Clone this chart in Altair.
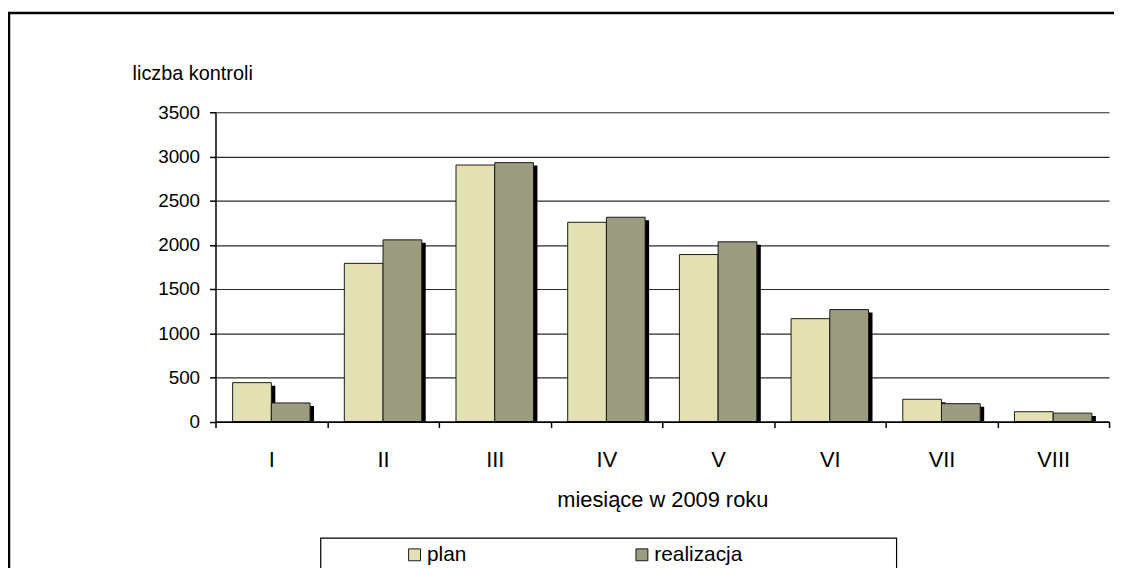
import altair as alt
import pandas as pd

# ---- data ----
months = ["I", "II", "III", "IV", "V", "VI", "VII", "VIII"]
plan = [440, 1790, 2903, 2255, 1890, 1164, 252, 111]
realizacja = [210, 2056, 2930, 2312, 2034, 1267, 202, 95]
series = ["plan", "realizacja"]
colors = ["#E3E1B3", "#9C9C80"]
y_ticks = [0, 500, 1000, 1500, 2000, 2500, 3000, 3500]

rows = []
for m, p, r in zip(months, plan, realizacja):
    rows.append({"miesiac": m, "seria": "plan", "wartosc": p})
    rows.append({"miesiac": m, "seria": "realizacja", "wartosc": r})
df = pd.DataFrame(rows)

FONT = "Liberation Sans"
W, H = 900, 311.5
BAR = 39
HALF = BAR / 2

x_enc = alt.X(
    "miesiac:N",
    sort=months,
    scale=alt.Scale(domain=months, paddingInner=0, paddingOuter=0),
    axis=alt.Axis(
        title="miesiące w 2009 roku",
        tickBand="extent",
        labelAngle=0,
        labelFontSize=22,
        labelPadding=22,
        titleFontSize=22,
        titleFontWeight="normal",
        titlePadding=20,
        grid=False,
        domainColor="#000000",
        domainWidth=1.8,
        tickColor="#000000",
        tickWidth=1.5,
        tickSize=6,
        labelColor="#000000",
        titleColor="#000000",
        zindex=1,
    ),
)
y_enc = alt.Y(
    "wartosc:Q",
    scale=alt.Scale(domain=[0, 3500], nice=False),
    axis=alt.Axis(
        values=y_ticks,
        format="d",
        title="liczba kontroli",
        titleAngle=0,
        titleAlign="left",
        titleBaseline="alphabetic",
        titleX=-84,
        titleY=-33,
        titleFontSize=20,
        titleFontWeight="normal",
        titleColor="#000000",
        labelFontSize=19,
        labelPadding=10,
        labelColor="#000000",
        grid=True,
        gridColor="#2a2a2a",
        gridWidth=1.2,
        domainColor="#000000",
        domainWidth=1.5,
        tickColor="#000000",
        tickWidth=1.5,
        tickSize=6,
    ),
)

color_enc = alt.Color(
    "seria:N",
    scale=alt.Scale(domain=series, range=colors),
    legend=alt.Legend(
        title=None,
        orient="none",
        direction="horizontal",
        legendX=190,
        legendY=435,
        symbolType="square",
        symbolSize=144,
        symbolStrokeColor="#1a1a1a",
        symbolStrokeWidth=1,
        symbolOpacity=1,
        labelFontSize=21,
        labelOffset=2,
        labelColor="#000000",
        columnPadding=166,
        padding=0,
    ),
)

base = alt.Chart(df)

offsets = {"plan": -HALF, "realizacja": HALF}

shadows = [
    base.transform_filter(alt.datum.seria == s)
    .mark_bar(color="#000000", width=BAR, xOffset=offsets[s] + 4, yOffset=3, clip=True)
    .encode(x=x_enc, y=y_enc)
    for s in series
]
bars = [
    base.transform_filter(alt.datum.seria == s)
    .mark_bar(width=BAR, xOffset=offsets[s], stroke="#1a1a1a", strokeWidth=1, opacity=1)
    .encode(x=x_enc, y=y_enc, color=color_enc)
    for s in series
]

one = pd.DataFrame({"k": [0]})
frame = alt.Chart(one).mark_rect(
    fillOpacity=0, stroke="#000000", strokeWidth=2.5
).encode(x=alt.value(-208), x2=alt.value(1100), y=alt.value(-100), y2=alt.value(520))

legend_box = alt.Chart(one).mark_rect(
    fillOpacity=0, stroke="#000000", strokeWidth=1.2
).encode(x=alt.value(106), x2=alt.value(686), y=alt.value(429), y2=alt.value(480))

chart = (
    alt.layer(frame, *shadows, *bars, legend_box)
    .properties(
        width=W,
        height=H,
        autosize=alt.AutoSizeParams(type="none"),
        padding={"left": 209, "top": 103, "right": 5, "bottom": 145.5},
        background="#ffffff",
    )
    .configure_view(stroke=None)
    .configure_axis(labelFont=FONT, titleFont=FONT)
    .configure_legend(labelFont=FONT)
)

chart.save("out.html", embed_options={"renderer": "svg", "actions": False})
